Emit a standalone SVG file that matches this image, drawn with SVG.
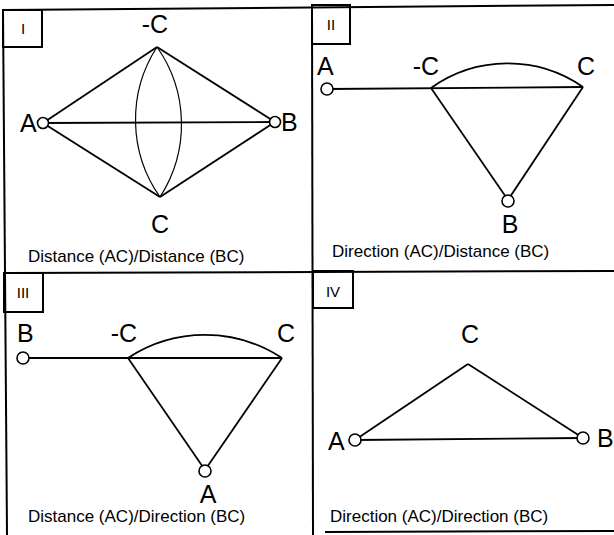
<svg xmlns="http://www.w3.org/2000/svg" width="614" height="535" viewBox="0 0 614 535">
<style>
.frame{fill:none;stroke:#000;stroke-width:2}
.edge{fill:none;stroke:#000;stroke-width:1.8}
.arc{fill:none;stroke:#000;stroke-width:1.2}
.pt{fill:#fff;stroke:#000;stroke-width:1.6}
.lbl{font-family:"Liberation Sans",Arial,sans-serif;font-size:25px;fill:#000}
.cap{font-family:"Liberation Sans",Arial,sans-serif;font-size:17px;fill:#000}
.num{font-family:"Liberation Sans",Arial,sans-serif;font-size:15px;fill:#000;text-anchor:middle}
</style>
<rect width="614" height="535" fill="#fff"/>
<g id="frames">
<line class="frame" x1="3" y1="10" x2="614" y2="5"/>
<line class="frame" x1="3" y1="10" x2="7" y2="535"/>
<line class="frame" x1="312" y1="5" x2="313" y2="535"/>
<line class="frame" x1="4" y1="273" x2="614" y2="271"/>
<line class="frame" x1="325" y1="532" x2="614" y2="531"/>
<rect class="frame" x="3" y="10" width="39" height="37"/>
<rect class="frame" x="312" y="5" width="38" height="39"/>
<rect class="frame" x="4" y="273" width="39" height="39"/>
<rect class="frame" x="313" y="271" width="40" height="37"/>
<text class="num" x="23" y="34">I</text>
<text class="num" x="331" y="30">II</text>
<text class="num" x="23" y="298">III</text>
<text class="num" x="333" y="297">IV</text>
</g>
<g id="connectors">
<line class="edge" x1="43" y1="123" x2="157" y2="47"/>
<line class="edge" x1="43" y1="123" x2="160" y2="197"/>
<line class="edge" x1="275" y1="122" x2="157" y2="47"/>
<line class="edge" x1="275" y1="122" x2="160" y2="197"/>
<line class="edge" x1="43" y1="123" x2="275" y2="122"/>
<path class="arc" d="M157,47 A134,134 0 0 0 160,197"/>
<path class="arc" d="M157,47 A134,134 0 0 1 160,197"/>
<line class="edge" x1="327" y1="89" x2="583" y2="87"/>
<line class="edge" x1="431" y1="88" x2="508" y2="200"/>
<line class="edge" x1="583" y1="87" x2="508" y2="200"/>
<path class="edge" d="M431,88 A132,132 0 0 1 583,87"/>
<line class="edge" x1="23" y1="358" x2="282" y2="358"/>
<line class="edge" x1="128" y1="358" x2="205" y2="470"/>
<line class="edge" x1="282" y1="358" x2="205" y2="470"/>
<path class="edge" d="M128,358 A140,140 0 0 1 282,358"/>
<line class="edge" x1="355" y1="440" x2="468" y2="364"/>
<line class="edge" x1="583" y1="438" x2="468" y2="364"/>
<line class="edge" x1="355" y1="440" x2="583" y2="438"/>
</g>
<g id="panel1">
<g id="p1-A"><circle class="pt" cx="43" cy="123" r="5.5"/><text class="lbl" x="20" y="132">A</text></g>
<g id="p1-B"><circle class="pt" cx="275" cy="122" r="5.5"/><text class="lbl" x="281" y="131">B</text></g>
<g id="p1-negC"><text class="lbl" x="155" y="33" text-anchor="middle">-C</text></g>
<g id="p1-C"><text class="lbl" x="160" y="233" text-anchor="middle">C</text></g>
<text class="cap" x="28" y="262">Distance (AC)/Distance (BC)</text>
</g>
<g id="panel2">
<g id="p2-A"><circle class="pt" cx="327" cy="89" r="6"/><text class="lbl" x="317" y="75">A</text></g>
<g id="p2-negC"><text class="lbl" x="426" y="75" text-anchor="middle">-C</text></g>
<g id="p2-C"><text class="lbl" x="586" y="75" text-anchor="middle">C</text></g>
<g id="p2-B"><circle class="pt" cx="508" cy="201" r="6"/><text class="lbl" x="510" y="233" text-anchor="middle">B</text></g>
<text class="cap" x="332" y="257">Direction (AC)/Distance (BC)</text>
</g>
<g id="panel3">
<g id="p3-B"><circle class="pt" cx="23" cy="358" r="6"/><text class="lbl" x="17" y="342">B</text></g>
<g id="p3-negC"><text class="lbl" x="124" y="342" text-anchor="middle">-C</text></g>
<g id="p3-C"><text class="lbl" x="286" y="342" text-anchor="middle">C</text></g>
<g id="p3-A"><circle class="pt" cx="205" cy="471" r="6"/><text class="lbl" x="208" y="503" text-anchor="middle">A</text></g>
<text class="cap" x="28" y="522">Distance (AC)/Direction (BC)</text>
</g>
<g id="panel4">
<g id="p4-C"><text class="lbl" x="470" y="343" text-anchor="middle">C</text></g>
<g id="p4-A"><circle class="pt" cx="355" cy="440" r="6"/><text class="lbl" x="328" y="450">A</text></g>
<g id="p4-B"><circle class="pt" cx="583" cy="438" r="6"/><text class="lbl" x="597" y="447">B</text></g>
<text class="cap" x="330" y="522">Direction (AC)/Direction (BC)</text>
</g>
</svg>
